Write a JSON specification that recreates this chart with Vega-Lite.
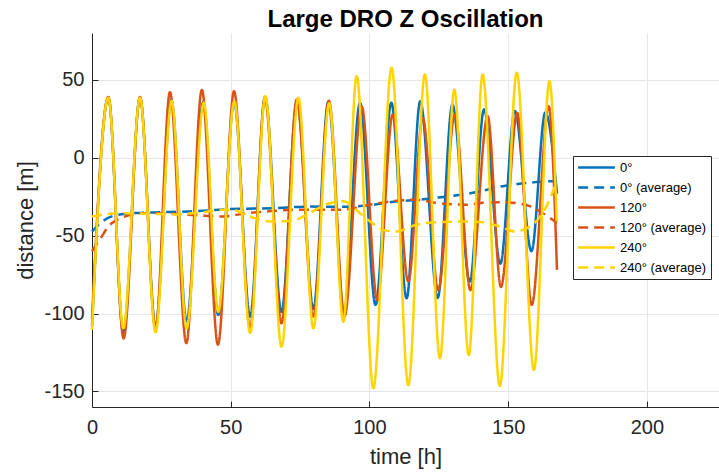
{
  "$schema": "https://vega.github.io/schema/vega-lite/v6.json",
  "width": 627,
  "height": 374,
  "autosize": {"type": "none"},
  "padding": {"left": 92, "top": 33, "right": 0, "bottom": 67},
  "background": "white",
  "title": {"text": "Large DRO Z Oscillation", "fontSize": 24, "fontWeight": "bold", "font": "Liberation Sans", "color": "#000000", "anchor": "middle", "baseline": "alphabetic", "offset": 6, "dy": 24},
  "config": {"view": {"stroke": null}, "font": "Liberation Sans"},
  "datasets": {
    "d": [
      {"s": "0°", "t": 0, "v": -108}, {"s": "0°", "t": 5.9, "v": 38.5}, {"s": "0°", "t": 11.3, "v": -112.5}, {"s": "0°", "t": 17.3, "v": 38.5}, {"s": "0°", "t": 22.9, "v": -108.5}, {"s": "0°", "t": 28.6, "v": 37}, {"s": "0°", "t": 34.1, "v": -105}, {"s": "0°", "t": 40.1, "v": 35.5}, {"s": "0°", "t": 45.5, "v": -101}, {"s": "0°", "t": 51.2, "v": 36}, {"s": "0°", "t": 57.0, "v": -102}, {"s": "0°", "t": 62.4, "v": 39}, {"s": "0°", "t": 68.3, "v": -99}, {"s": "0°", "t": 73.9, "v": 36.5}, {"s": "0°", "t": 79.8, "v": -97}, {"s": "0°", "t": 85.2, "v": 36}, {"s": "0°", "t": 90.8, "v": -100}, {"s": "0°", "t": 96.6, "v": 35.2}, {"s": "0°", "t": 102.2, "v": -94.5}, {"s": "0°", "t": 107.9, "v": 35.2}, {"s": "0°", "t": 113.4, "v": -90.2}, {"s": "0°", "t": 118.3, "v": 36.2}, {"s": "0°", "t": 124.6, "v": -90}, {"s": "0°", "t": 129.9, "v": 34}, {"s": "0°", "t": 136.2, "v": -79.5}, {"s": "0°", "t": 141.3, "v": 31}, {"s": "0°", "t": 147.2, "v": -68}, {"s": "0°", "t": 152.4, "v": 30}, {"s": "0°", "t": 158.4, "v": -60}, {"s": "0°", "t": 163.4, "v": 29}, {"s": "0°", "t": 167.6, "v": -23},

      {"s": "0° (average)", "t": 0, "v": -47.5}, {"s": "0° (average)", "t": 3, "v": -42}, {"s": "0° (average)", "t": 6, "v": -38.5}, {"s": "0° (average)", "t": 10, "v": -36.5}, {"s": "0° (average)", "t": 16, "v": -35.5}, {"s": "0° (average)", "t": 25, "v": -35}, {"s": "0° (average)", "t": 35, "v": -34.5}, {"s": "0° (average)", "t": 50, "v": -33}, {"s": "0° (average)", "t": 65, "v": -32.4}, {"s": "0° (average)", "t": 79, "v": -31.4}, {"s": "0° (average)", "t": 90, "v": -31.5}, {"s": "0° (average)", "t": 100, "v": -30.5}, {"s": "0° (average)", "t": 110, "v": -28}, {"s": "0° (average)", "t": 118, "v": -27}, {"s": "0° (average)", "t": 125, "v": -25.5}, {"s": "0° (average)", "t": 136, "v": -23}, {"s": "0° (average)", "t": 149, "v": -18}, {"s": "0° (average)", "t": 158, "v": -16}, {"s": "0° (average)", "t": 164, "v": -15.2}, {"s": "0° (average)", "t": 167.6, "v": -15},

      {"s": "120°", "t": 0, "v": -104}, {"s": "120°", "t": 5.9, "v": 39}, {"s": "120°", "t": 11.4, "v": -116}, {"s": "120°", "t": 17.3, "v": 39}, {"s": "120°", "t": 22.9, "v": -110}, {"s": "120°", "t": 28.1, "v": 42}, {"s": "120°", "t": 34.0, "v": -119}, {"s": "120°", "t": 39.6, "v": 43.5}, {"s": "120°", "t": 45.4, "v": -120}, {"s": "120°", "t": 51.2, "v": 42.6}, {"s": "120°", "t": 57.0, "v": -109.5}, {"s": "120°", "t": 62.3, "v": 38.5}, {"s": "120°", "t": 68.3, "v": -106.3}, {"s": "120°", "t": 73.8, "v": 37.3}, {"s": "120°", "t": 79.8, "v": -102}, {"s": "120°", "t": 85.4, "v": 36.5}, {"s": "120°", "t": 91.0, "v": -102}, {"s": "120°", "t": 97.2, "v": 33}, {"s": "120°", "t": 102.8, "v": -91.3}, {"s": "120°", "t": 108.4, "v": 27.7}, {"s": "120°", "t": 114.0, "v": -79.5}, {"s": "120°", "t": 119.2, "v": 25.5}, {"s": "120°", "t": 124.8, "v": -85}, {"s": "120°", "t": 130.8, "v": 27.7}, {"s": "120°", "t": 136.4, "v": -85}, {"s": "120°", "t": 142.6, "v": 26.6}, {"s": "120°", "t": 147.4, "v": -83}, {"s": "120°", "t": 153.3, "v": 28.7}, {"s": "120°", "t": 158.5, "v": -94.5}, {"s": "120°", "t": 164.6, "v": 33}, {"s": "120°", "t": 167.6, "v": -72},

      {"s": "120° (average)", "t": 0, "v": -60}, {"s": "120° (average)", "t": 3, "v": -52}, {"s": "120° (average)", "t": 6, "v": -44}, {"s": "120° (average)", "t": 9, "v": -40}, {"s": "120° (average)", "t": 12, "v": -37.7}, {"s": "120° (average)", "t": 18, "v": -35.6}, {"s": "120° (average)", "t": 28, "v": -36}, {"s": "120° (average)", "t": 38, "v": -37}, {"s": "120° (average)", "t": 47, "v": -37.7}, {"s": "120° (average)", "t": 56, "v": -35.6}, {"s": "120° (average)", "t": 63, "v": -34.5}, {"s": "120° (average)", "t": 74, "v": -33.4}, {"s": "120° (average)", "t": 90, "v": -33.4}, {"s": "120° (average)", "t": 100, "v": -30.2}, {"s": "120° (average)", "t": 108, "v": -28}, {"s": "120° (average)", "t": 117, "v": -27}, {"s": "120° (average)", "t": 124, "v": -29}, {"s": "120° (average)", "t": 135, "v": -30.2}, {"s": "120° (average)", "t": 141, "v": -29}, {"s": "120° (average)", "t": 148, "v": -28.6}, {"s": "120° (average)", "t": 154, "v": -29.5}, {"s": "120° (average)", "t": 158, "v": -31.3}, {"s": "120° (average)", "t": 162, "v": -35}, {"s": "120° (average)", "t": 167.6, "v": -42},

      {"s": "240°", "t": 0, "v": -110.5}, {"s": "240°", "t": 5.9, "v": 38.5}, {"s": "240°", "t": 11.3, "v": -109.5}, {"s": "240°", "t": 17.3, "v": 38.5}, {"s": "240°", "t": 22.9, "v": -112}, {"s": "240°", "t": 28.7, "v": 36.5}, {"s": "240°", "t": 34.1, "v": -109.5}, {"s": "240°", "t": 40.3, "v": 35.2}, {"s": "240°", "t": 45.5, "v": -99}, {"s": "240°", "t": 51.3, "v": 36.2}, {"s": "240°", "t": 57.0, "v": -112.5}, {"s": "240°", "t": 62.5, "v": 39.4}, {"s": "240°", "t": 68.3, "v": -121.3}, {"s": "240°", "t": 74.4, "v": 38.4}, {"s": "240°", "t": 79.8, "v": -109.5}, {"s": "240°", "t": 85.5, "v": 35}, {"s": "240°", "t": 90.6, "v": -105.3}, {"s": "240°", "t": 95.4, "v": 52.3}, {"s": "240°", "t": 101.4, "v": -148}, {"s": "240°", "t": 108.0, "v": 57.7}, {"s": "240°", "t": 114.0, "v": -146}, {"s": "240°", "t": 120.0, "v": 53.4}, {"s": "240°", "t": 125.4, "v": -128.8}, {"s": "240°", "t": 130.6, "v": 43.7}, {"s": "240°", "t": 135.8, "v": -126.7}, {"s": "240°", "t": 140.8, "v": 53.4}, {"s": "240°", "t": 147.0, "v": -146.5}, {"s": "240°", "t": 153.1, "v": 54.5}, {"s": "240°", "t": 159.3, "v": -136.3}, {"s": "240°", "t": 164.9, "v": 49}, {"s": "240°", "t": 167.5, "v": -41},

      {"s": "240° (average)", "t": 0, "v": -37.7}, {"s": "240° (average)", "t": 10, "v": -35.6}, {"s": "240° (average)", "t": 20, "v": -36}, {"s": "240° (average)", "t": 30, "v": -36.4}, {"s": "240° (average)", "t": 40, "v": -35}, {"s": "240° (average)", "t": 47, "v": -33.4}, {"s": "240° (average)", "t": 51, "v": -33.5}, {"s": "240° (average)", "t": 54, "v": -35.6}, {"s": "240° (average)", "t": 58.7, "v": -38.8}, {"s": "240° (average)", "t": 65, "v": -41}, {"s": "240° (average)", "t": 72, "v": -40.5}, {"s": "240° (average)", "t": 78, "v": -36}, {"s": "240° (average)", "t": 85, "v": -29.6}, {"s": "240° (average)", "t": 90.6, "v": -28}, {"s": "240° (average)", "t": 96.6, "v": -35.6}, {"s": "240° (average)", "t": 101, "v": -42}, {"s": "240° (average)", "t": 105, "v": -46.5}, {"s": "240° (average)", "t": 110, "v": -47.4}, {"s": "240° (average)", "t": 116, "v": -43.5}, {"s": "240° (average)", "t": 123, "v": -41.6}, {"s": "240° (average)", "t": 135, "v": -41}, {"s": "240° (average)", "t": 141, "v": -41.5}, {"s": "240° (average)", "t": 147, "v": -44.2}, {"s": "240° (average)", "t": 152.4, "v": -47.4}, {"s": "240° (average)", "t": 157.8, "v": -44.2}, {"s": "240° (average)", "t": 161, "v": -39}, {"s": "240° (average)", "t": 163.8, "v": -31.3}, {"s": "240° (average)", "t": 167.5, "v": -15.2}
    ]
  },
  "data": {"name": "d"},
  "mark": {"type": "line", "interpolate": "monotone", "strokeWidth": 2.5},
  "encoding": {
    "x": {
      "field": "t", "type": "quantitative",
      "scale": {"domain": [0, 226], "nice": false, "zero": false},
      "axis": {
        "values": [0, 50, 100, 150, 200], "title": "time [h]", "labelFlush": false,
        "titleFont": "Liberation Sans", "titleFontSize": 22, "titleFontWeight": "normal", "titleColor": "#262626", "titlePadding": 9,
        "labelFont": "Liberation Sans", "labelFontSize": 20, "labelColor": "#262626", "labelPadding": 16,
        "grid": true, "gridColor": "#E6E6E6", "gridWidth": 1,
        "domainColor": "#262626", "domainWidth": 1, "tickColor": "#262626", "tickSize": -6, "tickWidth": 1
      }
    },
    "y": {
      "field": "v", "type": "quantitative",
      "scale": {"domain": [-160, 80], "nice": false, "zero": false},
      "axis": {
        "values": [-150, -100, -50, 0, 50], "title": "distance [m]", "labelExpr": "'' + datum.value", "labelFlush": false,
        "titleFont": "Liberation Sans", "titleFontSize": 22, "titleFontWeight": "normal", "titleColor": "#262626", "titlePadding": 6,
        "labelFont": "Liberation Sans", "labelFontSize": 20, "labelColor": "#262626", "labelPadding": 14,
        "grid": true, "gridColor": "#E6E6E6", "gridWidth": 1,
        "domainColor": "#262626", "domainWidth": 1, "tickColor": "#262626", "tickSize": -6, "tickWidth": 1
      }
    },
    "color": {
      "field": "s", "type": "nominal",
      "scale": {
        "domain": ["0°", "0° (average)", "120°", "120° (average)", "240°", "240° (average)"],
        "range": ["#0072BD", "#0072BD", "#D95319", "#D95319", "#FFD400", "#FFD400"]
      },
      "legend": {
        "title": null, "orient": "none", "legendX": 481, "legendY": 123,
        "symbolType": "M-3,0H3", "symbolSize": 150, "symbolStrokeWidth": 2.5, "symbolOffset": 12, "symbolFillColor": "transparent",
        "labelFont": "Liberation Sans", "labelFontSize": 13, "labelColor": "#000000", "labelOffset": 16, "labelLimit": 200,
        "strokeColor": "#262626", "fillColor": "white", "padding": 4, "rowPadding": 5
      }
    },
    "strokeDash": {
      "field": "s", "type": "nominal",
      "scale": {
        "domain": ["0°", "0° (average)", "120°", "120° (average)", "240°", "240° (average)"],
        "range": [[1, 0], [10, 6], [1, 0], [10, 6], [1, 0], [10, 6]]
      }
    }
  }
}
